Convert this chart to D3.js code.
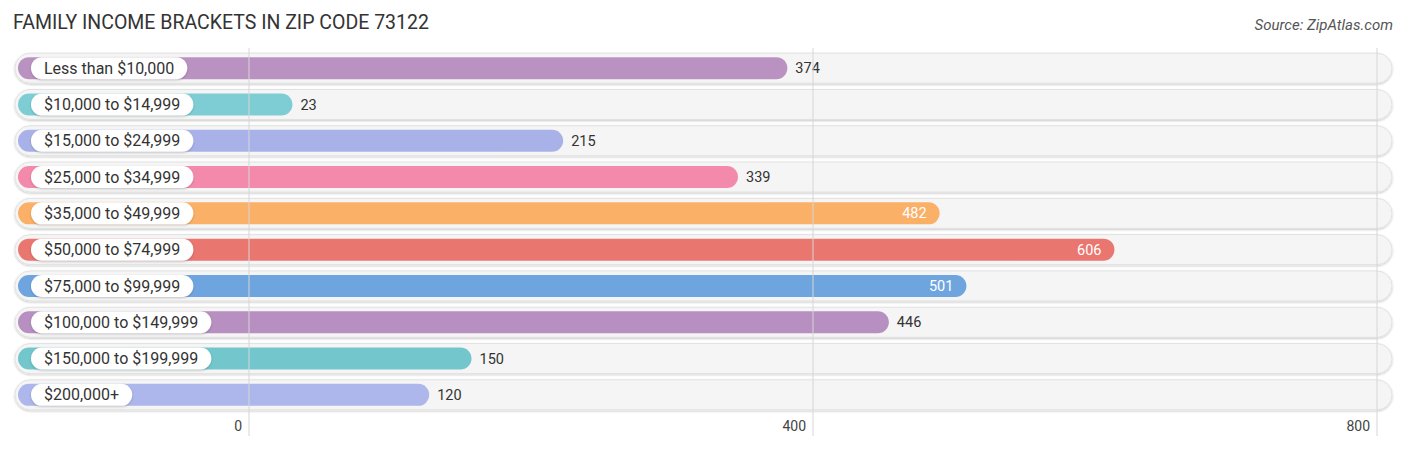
<!DOCTYPE html>
<html>
<head>
<meta charset="utf-8">
<script src="https://cdn.jsdelivr.net/npm/d3@7"></script>
<style>
  body { margin: 0; background: #fff; }
  text { font-family: Roboto, "Noto Sans", sans-serif; }
</style>
</head>
<body>
<div id="chart"></div>
<script>
const categories = [
  'Less than $10,000', '$10,000 to $14,999', '$15,000 to $24,999', '$25,000 to $34,999',
  '$35,000 to $49,999', '$50,000 to $74,999', '$75,000 to $99,999', '$100,000 to $149,999',
  '$150,000 to $199,999', '$200,000+'
];
const values = [374, 23, 215, 339, 482, 606, 501, 446, 150, 120];
const colors = ['#b992c1', '#7ecdd4', '#a9b2e8', '#f48aab', '#fbb068', '#e9766f', '#6fa5df', '#b78fc0', '#72c6cc', '#adb7ec'];
const ticks = [0, 400, 800];

const width = 1406, height = 450;

const svg = d3.select('#chart').append('svg')
  .attr('width', width)
  .attr('height', height);

const defs = svg.append('defs');
const shadow = defs.append('filter').attr('id', 'shadow')
  .attr('x', '-5%').attr('y', '-30%').attr('width', '110%').attr('height', '160%');
shadow.append('feDropShadow')
  .attr('dx', 0).attr('dy', 1).attr('stdDeviation', 1.2)
  .attr('flood-color', '#000').attr('flood-opacity', 0.22);

// scales
const x = d3.scaleLinear().domain([0, 800]).range([249, 1377]);
const y = d3.scaleBand().domain(categories).range([50, 413]);

// title
svg.append('text')
  .attr('x', 13).attr('y', 29)
  .attr('font-size', 19.5).attr('fill', '#333')
  .text('FAMILY INCOME BRACKETS IN ZIP CODE 73122');

svg.append('text')
  .attr('x', 1393).attr('y', 30)
  .attr('text-anchor', 'end')
  .attr('font-size', 15).attr('font-style', 'italic').attr('fill', '#555')
  .text('Source: ZipAtlas.com');

const rows = svg.append('g');
const data = categories.map((c, i) => ({ cat: c, value: values[i], color: colors[i] }));

// background tracks
rows.selectAll('.track')
  .data(data)
  .enter().append('rect')
  .attr('class', 'track')
  .attr('x', 15)
  .attr('y', d => y(d.cat) + y.bandwidth() / 2 - 15)
  .attr('width', 1377)
  .attr('height', 30)
  .attr('rx', 15)
  .attr('fill', '#f5f5f5')
  .attr('stroke', '#e2e2e2')
  .attr('filter', 'url(#shadow)');

// grid lines
svg.append('g')
  .selectAll('line')
  .data(ticks)
  .enter().append('line')
  .attr('x1', d => x(d)).attr('x2', d => x(d))
  .attr('y1', 48).attr('y2', 436)
  .attr('stroke', '#d6d6d6')
  .attr('stroke-width', 1);

// bars
const barH = 22;
rows.selectAll('.bar')
  .data(data)
  .enter().append('rect')
  .attr('class', 'bar')
  .attr('x', 18)
  .attr('y', d => y(d.cat) + y.bandwidth() / 2 - barH / 2)
  .attr('width', d => x(d.value) + barH / 2 - 18)
  .attr('height', barH)
  .attr('rx', barH / 2)
  .attr('fill', d => d.color);

// label pills
const labels = rows.selectAll('.label')
  .data(data)
  .enter().append('g')
  .attr('class', 'label')
  .attr('transform', d => `translate(31,${y(d.cat) + y.bandwidth() / 2})`);

labels.append('text')
  .attr('x', 13)
  .attr('dy', '0.35em')
  .attr('font-size', 16)
  .attr('fill', '#333')
  .text(d => d.cat)
  .each(function (d) { d.tw = this.getComputedTextLength(); });

labels.insert('rect', 'text')
  .attr('x', 0)
  .attr('y', -barH / 2)
  .attr('width', d => d.tw + 26)
  .attr('height', barH)
  .attr('rx', barH / 2)
  .attr('fill', '#fff')
  .attr('filter', 'url(#shadow)');

// value labels
rows.selectAll('.value')
  .data(data)
  .enter().append('text')
  .attr('class', 'value')
  .attr('x', d => d.value > 460 ? x(d.value) - 2 : x(d.value) + barH / 2 + 8)
  .attr('y', d => y(d.cat) + y.bandwidth() / 2)
  .attr('dy', '0.35em')
  .attr('text-anchor', d => d.value > 460 ? 'end' : 'start')
  .attr('font-size', 14.5)
  .attr('fill', d => d.value > 460 ? '#fff' : '#333')
  .text(d => d.value);

// axis tick labels
svg.append('g')
  .selectAll('text')
  .data(ticks)
  .enter().append('text')
  .attr('x', d => x(d) - 7)
  .attr('y', 431)
  .attr('text-anchor', 'end')
  .attr('font-size', 14)
  .attr('fill', '#444')
  .text(d => d);
</script>
</body>
</html>
